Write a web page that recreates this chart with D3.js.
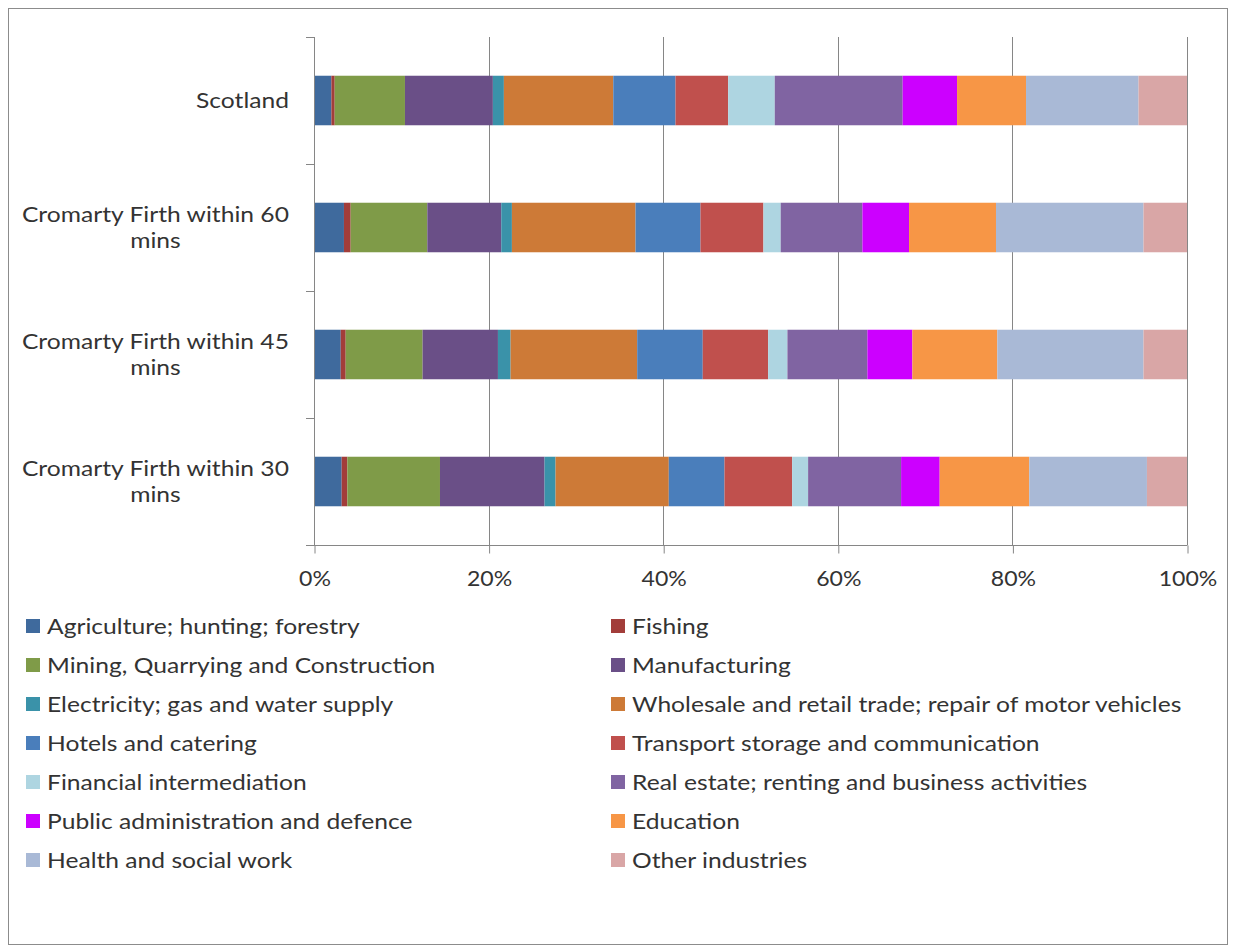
<!DOCTYPE html>
<html><head><meta charset="utf-8">
<script src="https://cdn.jsdelivr.net/npm/d3@7/dist/d3.min.js"></script>
<style>body{margin:0;background:#fff;} svg{display:block;font-family:Lato, "Open Sans", sans-serif;}</style>
</head><body><svg id="c" width="1235" height="949"></svg>
<script>
const categories = ["Scotland", "Cromarty Firth within 60 mins", "Cromarty Firth within 45 mins", "Cromarty Firth within 30 mins"];
const categoryLines = [["Scotland"], ["Cromarty Firth within 60", "mins"], ["Cromarty Firth within 45", "mins"], ["Cromarty Firth within 30", "mins"]];
const seriesNames = ["Agriculture; hunting; forestry", "Fishing", "Mining, Quarrying and Construction", "Manufacturing",
  "Electricity; gas and water supply", "Wholesale and retail trade; repair of motor vehicles", "Hotels and catering",
  "Transport storage and communication", "Financial intermediation", "Real estate; renting and business activities",
  "Public administration and defence", "Education", "Health and social work", "Other industries"];
const seriesColors = ["#3F6A9D", "#A23D3A", "#7F9B48", "#6A4F87", "#3A92A9", "#CD7A37", "#4A7EBB", "#C0504D",
  "#AED5E1", "#8064A2", "#CC00FF", "#F79646", "#A9B9D6", "#D9A6A6"];
// percentages per category, in series order
const scotland = [1.99, 0.38, 8.05, 10.07, 1.26, 12.53, 7.13, 6.03, 5.34, 14.65, 6.23, 7.90, 12.89, 5.55];
const within60 = [3.43, 0.77, 8.78, 8.47, 1.22, 14.16, 7.44, 7.21, 1.98, 9.36, 5.34, 9.96, 16.90, 4.98];
const within45 = [3.06, 0.57, 8.81, 8.63, 1.45, 14.50, 7.51, 7.49, 2.21, 9.16, 5.15, 9.73, 16.75, 4.98];
const within30 = [3.17, 0.65, 10.61, 11.98, 1.26, 12.97, 6.38, 7.75, 1.83, 10.65, 4.42, 10.26, 13.48, 4.59];
const xTicks = [0, 0.2, 0.4, 0.6, 0.8, 1.0];

const values = [scotland, within60, within45, within30];
const rows = categories.map((c, i) => {
  const o = {cat: c};
  const tot = d3.sum(values[i]);
  seriesNames.forEach((s, j) => o[s] = values[i][j] / tot);
  return o;
});
const stacked = d3.stack().keys(seriesNames)(rows);

const svg = d3.select("#c");
svg.append("rect").attr("x", 8.5).attr("y", 8.5).attr("width", 1219).attr("height", 936)
  .attr("fill", "#fff").attr("stroke", "#8c8c8c").attr("stroke-width", 1);

const pL = 314, pR = 1187, pT = 37, pB = 545;
const FS = 22, SX = 1.12;
const x = d3.scaleLinear().domain([0, 1]).range([pL, pR]);
const y = d3.scaleBand().domain(categories).range([pT, pB]).paddingInner(0.61).paddingOuter(0.305);

// gridlines
svg.append("g").selectAll("line").data(xTicks.slice(1)).join("line")
  .attr("x1", d => Math.round(x(d)) + 0.5).attr("x2", d => Math.round(x(d)) + 0.5)
  .attr("y1", pT).attr("y2", pB).attr("stroke", "#868686");

// bars
svg.append("g").selectAll("g").data(stacked).join("g")
  .attr("fill", (d, i) => seriesColors[i])
  .selectAll("rect").data(d => d).join("rect")
  .attr("x", d => x(d[0])).attr("width", d => x(d[1]) - x(d[0]))
  .attr("y", d => y(d.data.cat)).attr("height", y.bandwidth());

// x axis
const xAxis = d3.axisBottom(x).tickValues(xTicks).tickFormat(d3.format(".0%")).tickSize(8).tickPadding(17);
const gx = svg.append("g").attr("transform", `translate(0.5,${pB + 0.5})`).call(xAxis);
gx.select(".domain").remove();
gx.append("line").attr("x1", pL - 8.5).attr("x2", pR).attr("y1", 0).attr("y2", 0).attr("stroke", "#868686");
gx.selectAll(".tick line").attr("stroke", "#868686");
gx.selectAll(".tick text").attr("font-size", FS).attr("fill", "#333").attr("font-family", "Lato")
  .attr("transform", "scale(1.05,1)");

// y axis line with ticks at band boundaries
const yEdges = d3.range(categories.length + 1).map(i => pT + i * (pB - pT) / categories.length);
const gy = svg.append("g");
gy.append("line").attr("x1", pL + 0.5).attr("x2", pL + 0.5).attr("y1", pT).attr("y2", pB).attr("stroke", "#868686");
gy.selectAll("line.t").data(yEdges).join("line").attr("class", "t")
  .attr("x1", pL - 8).attr("x2", pL).attr("y1", d => Math.round(d) + 0.5).attr("y2", d => Math.round(d) + 0.5)
  .attr("stroke", "#868686");

// category labels
const labelRight = 289;
categories.forEach((c, i) => {
  const lines = categoryLines[i];
  const cy = y(c) + y.bandwidth() / 2;
  const g = svg.append("g");
  const texts = lines.map((l, k) => g.append("text").text(l).attr("font-size", FS).attr("fill", "#333")
    .attr("text-anchor", "middle").attr("dy", "0.35em")
    .datum(cy + (k - (lines.length - 1) / 2) * 26));
  const w = d3.max(texts, t => t.node().getComputedTextLength()) * SX;
  texts.forEach(t => t.attr("transform", `translate(${labelRight - w / 2},${t.datum()}) scale(${SX},1)`));
});

// legend
const lg = svg.append("g");
seriesNames.forEach((s, i) => {
  const col = i % 2, row = Math.floor(i / 2);
  const lx = col === 0 ? 26 : 611, ly = 626 + row * 39;
  lg.append("rect").attr("x", lx).attr("y", ly - 7).attr("width", 14).attr("height", 14).attr("fill", seriesColors[i]);
  lg.append("text").attr("transform", `translate(${lx + 21},${ly}) scale(${SX},1)`).attr("dy", "0.35em")
    .attr("font-size", FS).attr("fill", "#333").text(s);
});
</script></body></html>
